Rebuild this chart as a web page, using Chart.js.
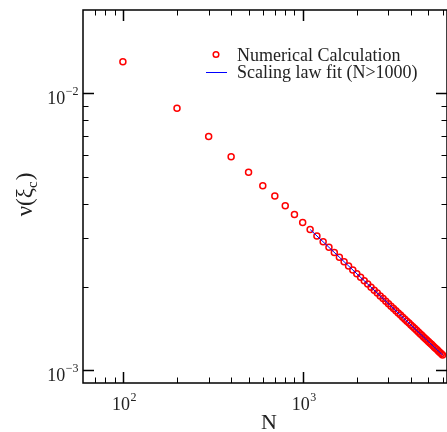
<!DOCTYPE html>
<html lang="en">
<head>
  <meta charset="UTF-8">
  <title>nu(xi_c) vs N</title>
  <script src="https://cdn.jsdelivr.net/npm/chart.js"></script>
  <style>
    body { margin: 0; background: #fff; }
  </style>
</head>
<body>

<canvas id="myChart" width="447" height="432"></canvas>

<script>
  // numerical calculation
  let nValues = [100, 200, 300, 400, 500, 600, 700, 800, 900, 1000,
    1100, 1200, 1300, 1400, 1500, 1600, 1700, 1800, 1900, 2000,
    2100, 2200, 2300, 2400, 2500, 2600, 2700, 2800, 2900, 3000,
    3100, 3200, 3300, 3400, 3500, 3600, 3700, 3800, 3900, 4000,
    4100, 4200, 4300, 4400, 4500, 4600, 4700, 4800, 4900, 5000,
    5100, 5200, 5300, 5400, 5500, 5600, 5700, 5800, 5900, 6000];
  let nuValues = [0.0130, 0.00883, 0.00699, 0.00591, 0.00519, 0.00464, 0.00426, 0.00393, 0.00365, 0.00342,
    0.003225, 0.003057, 0.002910, 0.002781, 0.002665, 0.002562, 0.002468, 0.002383, 0.002305, 0.002233,
    0.002167, 0.002106, 0.002049, 0.001996, 0.001947, 0.001900, 0.001857, 0.001816, 0.001777, 0.001740,
    0.001705, 0.001673, 0.001641, 0.001611, 0.001583, 0.001556, 0.001530, 0.001505, 0.001481, 0.001458,
    0.001436, 0.001415, 0.001395, 0.001375, 0.001356, 0.001338, 0.001320, 0.001303, 0.001287, 0.001271,
    0.001256, 0.001241, 0.001226, 0.001212, 0.001199, 0.001186, 0.001173, 0.001160, 0.001148, 0.001136];

  // scaling law fit (N>1000)
  let fitN = [1100, 6000];
  let fitNu = [0.003225, 0.001136];

  // axis ticks
  let xMajor = [100, 1000];
  let xMinor = [70, 80, 90, 200, 300, 400, 500, 600, 700, 800, 900, 2000, 3000, 4000, 5000, 6000];
  let yMajor = [0.001, 0.01];
  let yMinor = [0.002, 0.003, 0.004, 0.005, 0.006, 0.007, 0.008, 0.009];

  const serif = '"Liberation Serif", "Times New Roman", serif';

  function powLabel(ctx, base, exp, x, y, align) {
    ctx.font = '18px ' + serif;
    const wb = ctx.measureText(base).width;
    ctx.font = '12px ' + serif;
    const we = ctx.measureText(exp).width;
    let x0 = x;
    if (align === 'center') x0 = x - (wb + we) / 2;
    if (align === 'right') x0 = x - wb - we;
    ctx.textAlign = 'left';
    ctx.textBaseline = 'alphabetic';
    ctx.font = '18px ' + serif;
    ctx.fillText(base, x0, y);
    ctx.font = '12px ' + serif;
    ctx.fillText(exp, x0 + wb + 0.5, y - 9);
  }

  const framePlugin = {
    id: 'frame',
    afterDraw(chart) {
      const ctx = chart.ctx;
      const a = chart.chartArea;
      const xs = chart.scales.x;
      const ys = chart.scales.y;
      ctx.save();
      ctx.strokeStyle = '#000';
      ctx.fillStyle = '#000';
      ctx.lineWidth = 1.5;
      ctx.strokeRect(a.left, a.top, a.right - a.left, a.bottom - a.top);

      ctx.lineWidth = 1;
      function xTick(v, len) {
        const px = Math.round(xs.getPixelForValue(v)) + 0.5;
        ctx.beginPath();
        ctx.moveTo(px, a.bottom); ctx.lineTo(px, a.bottom - len);
        ctx.moveTo(px, a.top); ctx.lineTo(px, a.top + len);
        ctx.stroke();
      }
      function yTick(v, len) {
        const py = Math.round(ys.getPixelForValue(v)) + 0.5;
        ctx.beginPath();
        ctx.moveTo(a.left, py); ctx.lineTo(a.left + len, py);
        ctx.moveTo(a.right, py); ctx.lineTo(a.right - len, py);
        ctx.stroke();
      }
      xMinor.forEach(v => xTick(v, 5.5));
      yMinor.forEach(v => yTick(v, 5.5));
      ctx.lineWidth = 1.5;
      xMajor.forEach(v => xTick(v, 11));
      yMajor.forEach(v => yTick(v, 11));

      ctx.fillStyle = '#222';
      xMajor.forEach(v => {
        powLabel(ctx, '10', String(Math.round(Math.log10(v))), xs.getPixelForValue(v) + 1, a.bottom + 27, 'center');
      });
      yMajor.forEach(v => {
        powLabel(ctx, '10', String(Math.round(Math.log10(v))).replace('-', '\u2212'), a.left - 5, ys.getPixelForValue(v) + 11, 'right');
      });

      // axis titles
      ctx.font = '22px ' + serif;
      ctx.textAlign = 'center';
      ctx.textBaseline = 'alphabetic';
      ctx.fillText('N', 269, 429);

      ctx.save();
      ctx.translate(32, 195);
      ctx.rotate(-Math.PI / 2);
      ctx.font = '23px ' + serif;
      const p1 = '\u03bd(\u03be';
      const w1 = ctx.measureText(p1).width;
      ctx.font = '15px ' + serif;
      const w2 = ctx.measureText('c').width;
      ctx.font = '23px ' + serif;
      const w3 = ctx.measureText(')').width;
      let sx = -(w1 + w2 + w3) / 2;
      ctx.textAlign = 'left';
      ctx.fillText(p1, sx, 0);
      ctx.font = '15px ' + serif;
      ctx.fillText('c', sx + w1, 5);
      ctx.font = '23px ' + serif;
      ctx.fillText(')', sx + w1 + w2 + 1, 0);
      ctx.restore();

      // legend
      ctx.font = '18px ' + serif;
      ctx.textAlign = 'left';
      ctx.fillText('Numerical Calculation', 237, 61);
      ctx.fillText('Scaling law fit (N>1000)', 237, 78);
      ctx.strokeStyle = '#ff0000';
      ctx.lineWidth = 1.5;
      ctx.beginPath();
      ctx.arc(216, 54.5, 2.8, 0, Math.PI * 2);
      ctx.stroke();
      ctx.strokeStyle = '#0000ff';
      ctx.lineWidth = 1;
      ctx.beginPath();
      ctx.moveTo(206, 72.5); ctx.lineTo(227, 72.5);
      ctx.stroke();
      ctx.restore();
    }
  };

  const ctx = document.getElementById('myChart').getContext('2d');

  const myChart = new Chart(ctx, {
    type: 'scatter',
    data: {
      datasets: [
        {
          label: 'Scaling law fit (N>1000)',
          data: fitN.map((n, i) => ({ x: n, y: fitNu[i] })),
          showLine: true,
          borderColor: '#0000ff',
          borderWidth: 1,
          pointRadius: 0,
          fill: false,
          order: 0
        },
        {
          label: 'Numerical Calculation',
          data: nValues.map((n, i) => ({ x: n, y: nuValues[i] })),
          showLine: false,
          pointStyle: 'circle',
          pointRadius: 3,
          borderColor: '#ff0000',
          backgroundColor: 'rgba(0,0,0,0)',
          borderWidth: 1.5,
          order: 1
        }
      ]
    },
    options: {
      responsive: false,
      animation: false,
      layout: { autoPadding: false, padding: { left: 83, top: 10, right: -2, bottom: 49 } },
      plugins: {
        legend: { display: false },
        tooltip: { enabled: false }
      },
      scales: {
        x: { type: 'logarithmic', min: 60, max: 6350, display: false },
        y: { type: 'logarithmic', min: 0.0009, max: 0.02, display: false }
      }
    },
    plugins: [framePlugin]
  });
</script>

</body>
</html>
